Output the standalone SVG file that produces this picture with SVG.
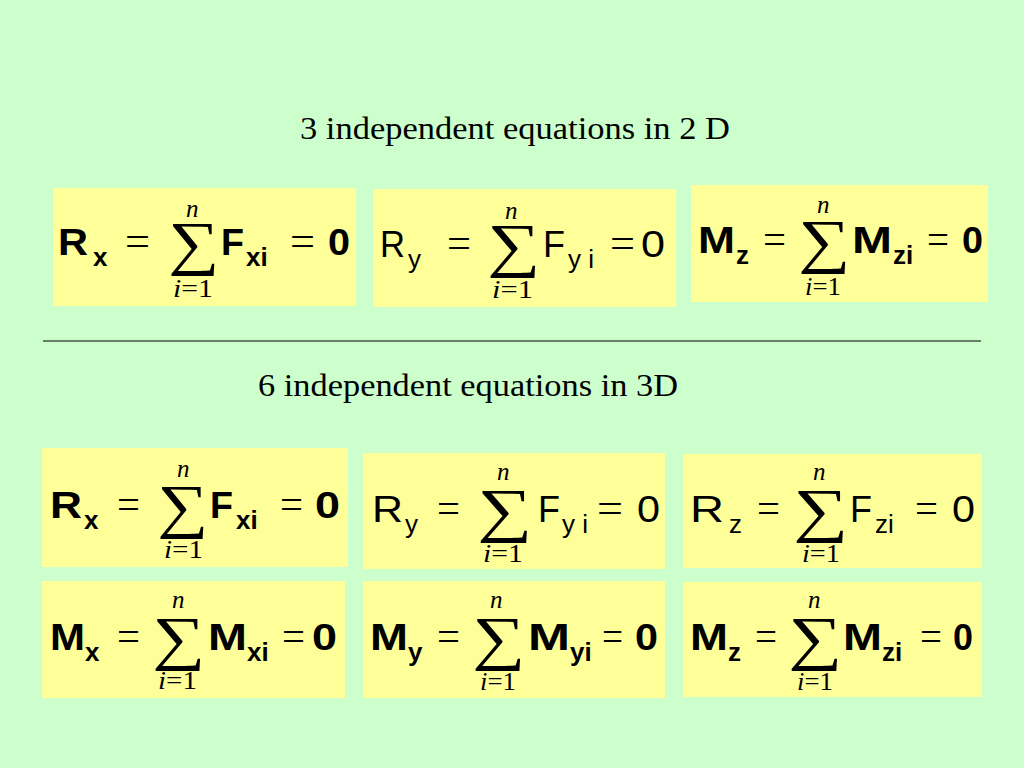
<svg xmlns="http://www.w3.org/2000/svg" width="1024" height="768" viewBox="0 0 1024 768">
<style>
.bg{fill:#CCFFCC}
.box{fill:#FFFF99}
.t{font-family:"Liberation Serif","Times New Roman",serif;fill:#000}
.title{font-size:32px}
.b{font-family:"Liberation Sans",Arial,sans-serif;font-weight:bold;font-size:36px;fill:#000}
.r{font-family:"Liberation Sans",Arial,sans-serif;font-size:36px;fill:#000}
.bs{font-family:"Liberation Sans",Arial,sans-serif;font-weight:bold;font-size:26px;fill:#000}
.rs{font-family:"Liberation Sans",Arial,sans-serif;font-size:26px;fill:#000}
.eq{font-family:"Liberation Serif","Times New Roman",serif;font-size:42px;fill:#000}
.sig{font-family:"Liberation Serif","Times New Roman",serif;font-size:60px;fill:#000}
.lim{font-family:"Liberation Serif","Times New Roman",serif;font-size:25px;fill:#000}
.it{font-style:italic}
</style>
<rect class="bg" x="0" y="0" width="1024" height="768"/>
<text id="title-2d" class="t title" x="300" y="139" textLength="430" lengthAdjust="spacingAndGlyphs">3 independent equations in 2 D</text>
<line id="separator" x1="43" y1="341" x2="981" y2="341" stroke="#000" stroke-width="1"/>
<text id="title-3d" class="t title" x="258" y="396" textLength="420" lengthAdjust="spacingAndGlyphs">6 independent equations in 3D</text>

<g id="eq-2d-rx">
<rect class="box" x="53" y="188" width="303" height="118"/>
<text class="b" x="58" y="255" textLength="30" lengthAdjust="spacingAndGlyphs">R</text>
<text class="bs" x="93" y="266">x</text>
<text class="eq" x="125" y="255" textLength="25" lengthAdjust="spacingAndGlyphs">=</text>
<text class="sig" x="168" y="263" textLength="51" lengthAdjust="spacingAndGlyphs">∑</text>
<text class="lim it" x="186" y="217">n</text>
<text class="lim" x="173" y="297" textLength="40" lengthAdjust="spacingAndGlyphs"><tspan class="it">i</tspan>=1</text>
<text class="b" x="221" y="255" textLength="23" lengthAdjust="spacingAndGlyphs">F</text>
<text class="bs" x="246" y="266">xi</text>
<text class="eq" x="290" y="255" textLength="25" lengthAdjust="spacingAndGlyphs">=</text>
<text class="b" x="328" y="255" textLength="22" lengthAdjust="spacingAndGlyphs">0</text>
</g>

<g id="eq-2d-ry">
<rect class="box" x="373" y="189" width="303" height="118"/>
<text class="r" x="380" y="257" textLength="25" lengthAdjust="spacingAndGlyphs">R</text>
<text class="rs" x="408" y="268">y</text>
<text class="eq" x="447" y="257" textLength="24" lengthAdjust="spacingAndGlyphs">=</text>
<text class="sig" x="487" y="265" textLength="53" lengthAdjust="spacingAndGlyphs">∑</text>
<text class="lim it" x="505" y="219">n</text>
<text class="lim" x="492" y="298" textLength="41" lengthAdjust="spacingAndGlyphs"><tspan class="it">i</tspan>=1</text>
<text class="r" x="543" y="257" textLength="22" lengthAdjust="spacingAndGlyphs">F</text>
<text class="rs" x="568" y="268">y i</text>
<text class="eq" x="610" y="257" textLength="25" lengthAdjust="spacingAndGlyphs">=</text>
<text class="r" x="641" y="257" textLength="24" lengthAdjust="spacingAndGlyphs">0</text>
</g>

<g id="eq-2d-mz">
<rect class="box" x="691" y="185" width="297" height="117"/>
<text class="b" x="698" y="253" textLength="37" lengthAdjust="spacingAndGlyphs">M</text>
<text class="bs" x="736" y="264">z</text>
<text class="eq" x="763" y="253" textLength="23" lengthAdjust="spacingAndGlyphs">=</text>
<text class="sig" x="798" y="261" textLength="52" lengthAdjust="spacingAndGlyphs">∑</text>
<text class="lim it" x="817" y="213">n</text>
<text class="lim" x="805" y="295" textLength="36" lengthAdjust="spacingAndGlyphs"><tspan class="it">i</tspan>=1</text>
<text class="b" x="852" y="253" textLength="40" lengthAdjust="spacingAndGlyphs">M</text>
<text class="bs" x="893" y="264">zi</text>
<text class="eq" x="927" y="253" textLength="22" lengthAdjust="spacingAndGlyphs">=</text>
<text class="b" x="962" y="253" textLength="21" lengthAdjust="spacingAndGlyphs">0</text>
</g>

<g id="eq-3d-rx">
<rect class="box" x="42" y="448" width="306" height="119"/>
<text class="b" x="50" y="518" textLength="32" lengthAdjust="spacingAndGlyphs">R</text>
<text class="bs" x="84" y="529">x</text>
<text class="eq" x="117" y="518" textLength="23" lengthAdjust="spacingAndGlyphs">=</text>
<text class="sig" x="157" y="526" textLength="51" lengthAdjust="spacingAndGlyphs">∑</text>
<text class="lim it" x="177" y="477">n</text>
<text class="lim" x="164" y="558" textLength="39" lengthAdjust="spacingAndGlyphs"><tspan class="it">i</tspan>=1</text>
<text class="b" x="210" y="518" textLength="23" lengthAdjust="spacingAndGlyphs">F</text>
<text class="bs" x="236" y="529">xi</text>
<text class="eq" x="280" y="518" textLength="23" lengthAdjust="spacingAndGlyphs">=</text>
<text class="b" x="315" y="518" textLength="25" lengthAdjust="spacingAndGlyphs">0</text>
</g>

<g id="eq-3d-ry">
<rect class="box" x="363" y="453" width="302" height="116"/>
<text class="r" x="372" y="522" textLength="31" lengthAdjust="spacingAndGlyphs">R</text>
<text class="rs" x="405" y="533">y</text>
<text class="eq" x="437" y="522" textLength="23" lengthAdjust="spacingAndGlyphs">=</text>
<text class="sig" x="477" y="530" textLength="55" lengthAdjust="spacingAndGlyphs">∑</text>
<text class="lim it" x="497" y="480">n</text>
<text class="lim" x="483" y="562" textLength="40" lengthAdjust="spacingAndGlyphs"><tspan class="it">i</tspan>=1</text>
<text class="r" x="538" y="522" textLength="22" lengthAdjust="spacingAndGlyphs">F</text>
<text class="rs" x="562" y="533">y i</text>
<text class="eq" x="597" y="522" textLength="26" lengthAdjust="spacingAndGlyphs">=</text>
<text class="r" x="637" y="522" textLength="23" lengthAdjust="spacingAndGlyphs">0</text>
</g>

<g id="eq-3d-rz">
<rect class="box" x="683" y="454" width="299" height="114"/>
<text class="r" x="690" y="522" textLength="34" lengthAdjust="spacingAndGlyphs">R</text>
<text class="rs" x="729" y="533">z</text>
<text class="eq" x="757" y="522" textLength="23" lengthAdjust="spacingAndGlyphs">=</text>
<text class="sig" x="793" y="530" textLength="55" lengthAdjust="spacingAndGlyphs">∑</text>
<text class="lim it" x="813" y="480">n</text>
<text class="lim" x="802" y="562" textLength="38" lengthAdjust="spacingAndGlyphs"><tspan class="it">i</tspan>=1</text>
<text class="r" x="850" y="522" textLength="22" lengthAdjust="spacingAndGlyphs">F</text>
<text class="rs" x="875" y="533">zi</text>
<text class="eq" x="915" y="522" textLength="23" lengthAdjust="spacingAndGlyphs">=</text>
<text class="r" x="952" y="522" textLength="23" lengthAdjust="spacingAndGlyphs">0</text>
</g>

<g id="eq-3d-mx">
<rect class="box" x="42" y="581" width="303" height="117"/>
<text class="b" x="50" y="650" textLength="35" lengthAdjust="spacingAndGlyphs">M</text>
<text class="bs" x="85" y="661">x</text>
<text class="eq" x="117" y="650" textLength="23" lengthAdjust="spacingAndGlyphs">=</text>
<text class="sig" x="152" y="658" textLength="53" lengthAdjust="spacingAndGlyphs">∑</text>
<text class="lim it" x="172" y="608">n</text>
<text class="lim" x="158" y="689" textLength="39" lengthAdjust="spacingAndGlyphs"><tspan class="it">i</tspan>=1</text>
<text class="b" x="208" y="650" textLength="39" lengthAdjust="spacingAndGlyphs">M</text>
<text class="bs" x="247" y="661">xi</text>
<text class="eq" x="282" y="650" textLength="23" lengthAdjust="spacingAndGlyphs">=</text>
<text class="b" x="312" y="650" textLength="25" lengthAdjust="spacingAndGlyphs">0</text>
</g>

<g id="eq-3d-my">
<rect class="box" x="363" y="581" width="302" height="117"/>
<text class="b" x="370" y="650" textLength="38" lengthAdjust="spacingAndGlyphs">M</text>
<text class="bs" x="408" y="661">y</text>
<text class="eq" x="437" y="650" textLength="23" lengthAdjust="spacingAndGlyphs">=</text>
<text class="sig" x="472" y="658" textLength="53" lengthAdjust="spacingAndGlyphs">∑</text>
<text class="lim it" x="490" y="608">n</text>
<text class="lim" x="480" y="690" textLength="36" lengthAdjust="spacingAndGlyphs"><tspan class="it">i</tspan>=1</text>
<text class="b" x="528" y="650" textLength="42" lengthAdjust="spacingAndGlyphs">M</text>
<text class="bs" x="570" y="661">yi</text>
<text class="eq" x="602" y="650" textLength="21" lengthAdjust="spacingAndGlyphs">=</text>
<text class="b" x="635" y="650" textLength="23" lengthAdjust="spacingAndGlyphs">0</text>
</g>

<g id="eq-3d-mz">
<rect class="box" x="683" y="582" width="299" height="115"/>
<text class="b" x="690" y="650" textLength="38" lengthAdjust="spacingAndGlyphs">M</text>
<text class="bs" x="728" y="661">z</text>
<text class="eq" x="755" y="650" textLength="22" lengthAdjust="spacingAndGlyphs">=</text>
<text class="sig" x="788" y="658" textLength="54" lengthAdjust="spacingAndGlyphs">∑</text>
<text class="lim it" x="808" y="608">n</text>
<text class="lim" x="797" y="690" textLength="36" lengthAdjust="spacingAndGlyphs"><tspan class="it">i</tspan>=1</text>
<text class="b" x="843" y="650" textLength="39" lengthAdjust="spacingAndGlyphs">M</text>
<text class="bs" x="882" y="661">zi</text>
<text class="eq" x="920" y="650" textLength="22" lengthAdjust="spacingAndGlyphs">=</text>
<text class="b" x="953" y="650" textLength="20" lengthAdjust="spacingAndGlyphs">0</text>
</g>
</svg>
